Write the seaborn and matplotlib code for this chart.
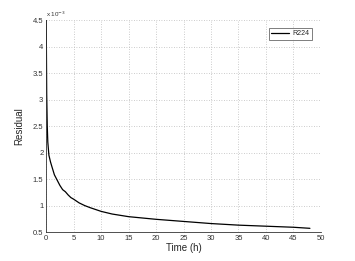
import numpy as np
import pandas as pd
import seaborn as sns
import matplotlib as mpl
mpl.use("Agg")
import matplotlib.pyplot as plt
from matplotlib.ticker import FuncFormatter

sns.set_style("white")
plt.rcParams['font.family'] = ['Liberation Sans', 'DejaVu Sans']

# residual curve (time in hours, residual in units of 1e-3)
time_h = [0.0, 0.05, 0.1, 0.2, 0.3, 0.5, 0.8, 1.0, 1.5, 2.0, 2.5, 3.0, 3.5, 4.0,
          4.5, 5.0, 6.0, 7.0, 8.0, 10.0, 12.0, 15.0, 20.0, 25.0, 30.0, 35.0,
          40.0, 45.0, 48.0]
residual_e3 = [4.5, 3.9, 3.1, 2.5, 2.2, 1.95, 1.82, 1.75, 1.58, 1.48, 1.38,
               1.3, 1.26, 1.2, 1.15, 1.12, 1.05, 1.0, 0.96, 0.89, 0.84, 0.79,
               0.74, 0.7, 0.66, 0.63, 0.61, 0.59, 0.57]
series = "R224"

df = pd.DataFrame({"Time (h)": time_h,
                   "Residual": np.array(residual_e3) * 1e-3,
                   "run": series})

fig = plt.figure(figsize=(3.55, 2.61), dpi=100)
ax = fig.add_axes([0.130, 0.111, 0.774, 0.812])

sns.lineplot(data=df, x="Time (h)", y="Residual", hue="run", palette=["black"],
             linewidth=0.9, ax=ax)

ax.set_xlim(0, 50)
ax.set_ylim(0.5e-3, 4.5e-3)
ax.set_xticks(np.arange(0, 51, 5))
ax.set_yticks(np.arange(0.5e-3, 4.51e-3, 0.5e-3))
ax.yaxis.set_major_formatter(FuncFormatter(lambda v, p: f"{v * 1e3:g}"))
ax.tick_params(direction="in", length=2.5, labelsize=5.5, colors="#333333", pad=2)
ax.grid(True, linestyle=(0, (1, 2)), color="#bbbbbb", linewidth=0.6)
for s in ["top", "right"]:
    ax.spines[s].set_visible(False)
for s in ["left", "bottom"]:
    ax.spines[s].set_color("#333333")
    ax.spines[s].set_linewidth(0.6)

ax.set_xlabel("Time (h)", fontsize=7, labelpad=1)
ax.set_ylabel("Residual", fontsize=7, labelpad=6)
ax.text(0.0, 1.005, "x 10$^{-3}$", transform=ax.transAxes, fontsize=4.5,
        ha="left", va="bottom", color="#333333")

leg = ax.legend(loc="upper right", fontsize=5, frameon=True, fancybox=False,
                handlelength=2.6, handletextpad=0.5, borderpad=0.35,
                bbox_to_anchor=(0.98, 0.98))
leg.get_frame().set_edgecolor("#444444")
leg.get_frame().set_linewidth(0.6)

fig.savefig("out.png", dpi=100)
